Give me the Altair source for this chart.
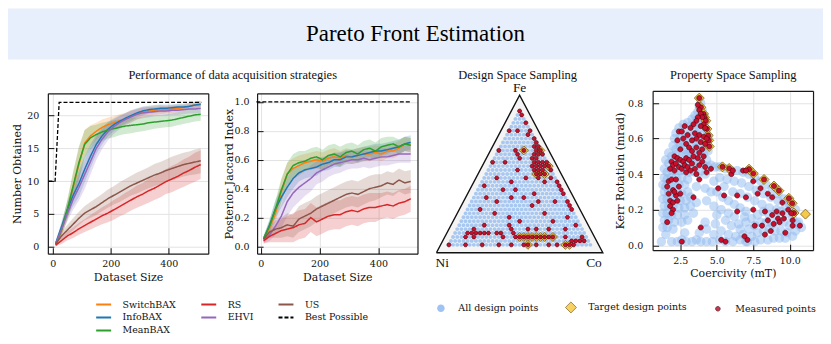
import altair as alt
import pandas as pd

# ------------------------------------------------------------------ data
TITLE = "Pareto Front Estimation"
PERF_TITLE = "Performance of data acquisition strategies"
DESIGN_TITLE = "Design Space Sampling"
PROP_TITLE = "Property Space Sampling"

methods = ["SwitchBAX", "RS", "US", "InfoBAX", "EHVI", "Best Possible", "MeanBAX"]
method_colors = ["#ff7f0e", "#d62728", "#8c564b", "#1f77b4", "#9467bd", "#000000", "#2ca02c"]
method_dash = [[1, 0], [1, 0], [1, 0], [1, 0], [1, 0], [4, 2], [1, 0]]

dataset_size = [10, 30, 50, 70, 90, 110, 130, 150, 170, 190, 210, 230, 250,
                270, 290, 310, 330, 350, 370, 390, 410, 430, 450, 470, 490, 510]

number_obtained = {
    "SwitchBAX": [0.3, 2.4, 5.5, 9.0, 12.5, 15.8, 16.9, 17.6, 18.2, 18.6, 18.9, 19.2, 19.5, 19.9, 20.2, 20.5, 20.7, 20.8, 20.9, 20.9, 21.0, 21.1, 21.2, 21.4, 21.6, 21.8],
    "InfoBAX":   [0.5, 3.0, 5.6, 7.8, 9.6, 11.8, 13.8, 15.6, 16.9, 17.9, 18.6, 19.1, 19.6, 20.0, 20.4, 20.7, 20.9, 21.0, 21.1, 21.1, 21.2, 21.3, 21.3, 21.4, 21.6, 21.7],
    "MeanBAX":   [0.3, 2.5, 5.6, 9.2, 12.8, 15.6, 16.6, 17.1, 17.5, 17.8, 18.0, 18.2, 18.4, 18.5, 18.6, 18.7, 18.9, 19.0, 19.1, 19.2, 19.3, 19.5, 19.7, 19.9, 20.1, 20.2],
    "EHVI":      [0.4, 2.6, 5.0, 7.2, 9.0, 11.0, 13.0, 15.0, 16.4, 17.5, 18.3, 18.9, 19.4, 19.8, 20.2, 20.4, 20.5, 20.6, 20.7, 20.7, 20.8, 20.8, 20.9, 21.0, 21.0, 21.1],
    "RS":        [0.2, 0.9, 1.6, 2.1, 2.7, 3.2, 3.7, 4.2, 4.7, 5.1, 5.6, 6.1, 6.6, 7.1, 7.6, 8.0, 8.5, 8.9, 9.4, 9.9, 10.3, 10.7, 11.2, 11.6, 12.1, 12.5],
    "US":        [0.4, 1.6, 2.5, 3.4, 4.3, 5.1, 5.6, 6.1, 6.7, 7.3, 7.8, 8.3, 8.8, 9.3, 9.7, 10.1, 10.5, 10.9, 11.2, 11.6, 11.9, 12.2, 12.5, 12.7, 12.9, 13.1],
}
number_halfwidth = {
    "SwitchBAX": [0.3, 0.8, 1.5, 2.2, 2.5, 2.0, 1.6, 1.3, 1.2, 1.1, 1.0, 1.0, 0.9, 0.9, 0.8, 0.8, 0.7, 0.7, 0.7, 0.6, 0.6, 0.6, 0.5, 0.5, 0.5, 0.5],
    "InfoBAX":   [0.3, 0.8, 1.2, 1.6, 2.0, 2.0, 1.8, 1.5, 1.3, 1.1, 1.0, 0.9, 0.8, 0.8, 0.7, 0.7, 0.6, 0.6, 0.6, 0.6, 0.5, 0.5, 0.5, 0.5, 0.5, 0.5],
    "MeanBAX":   [0.3, 0.8, 1.5, 2.2, 2.5, 2.2, 1.8, 1.5, 1.4, 1.3, 1.3, 1.2, 1.2, 1.2, 1.1, 1.1, 1.1, 1.0, 1.0, 1.0, 1.0, 1.0, 1.0, 1.0, 1.0, 1.0],
    "EHVI":      [0.3, 0.8, 1.2, 1.6, 2.0, 2.2, 2.0, 1.8, 1.5, 1.3, 1.1, 1.0, 0.9, 0.9, 0.8, 0.8, 0.8, 0.7, 0.7, 0.7, 0.7, 0.7, 0.7, 0.7, 0.7, 0.7],
    "RS":        [0.2, 0.5, 0.7, 0.8, 0.9, 1.0, 1.1, 1.2, 1.3, 1.4, 1.5, 1.5, 1.6, 1.6, 1.7, 1.7, 1.8, 1.8, 1.9, 1.9, 2.0, 2.0, 2.1, 2.1, 2.2, 2.2],
    "US":        [0.3, 0.6, 0.8, 0.9, 1.0, 1.1, 1.2, 1.3, 1.3, 1.4, 1.4, 1.5, 1.5, 1.5, 1.6, 1.6, 1.6, 1.7, 1.7, 1.7, 1.8, 1.8, 1.8, 1.8, 1.9, 1.9],
}
jaccard = {
    "SwitchBAX": [0.05, 0.13, 0.23, 0.38, 0.50, 0.54, 0.56, 0.58, 0.59, 0.60, 0.59, 0.61, 0.62, 0.61, 0.63, 0.62, 0.63, 0.64, 0.64, 0.65, 0.64, 0.66, 0.66, 0.68, 0.71, 0.70],
    "InfoBAX":   [0.05, 0.15, 0.26, 0.34, 0.41, 0.47, 0.51, 0.53, 0.54, 0.55, 0.57, 0.58, 0.60, 0.60, 0.62, 0.62, 0.63, 0.64, 0.65, 0.66, 0.66, 0.67, 0.68, 0.69, 0.71, 0.72],
    "MeanBAX":   [0.06, 0.14, 0.26, 0.39, 0.50, 0.56, 0.58, 0.59, 0.61, 0.62, 0.60, 0.63, 0.64, 0.62, 0.65, 0.66, 0.64, 0.67, 0.68, 0.66, 0.69, 0.70, 0.71, 0.69, 0.71, 0.70],
    "EHVI":      [0.04, 0.08, 0.14, 0.21, 0.31, 0.37, 0.41, 0.44, 0.47, 0.51, 0.53, 0.55, 0.57, 0.58, 0.59, 0.60, 0.60, 0.61, 0.60, 0.61, 0.62, 0.62, 0.63, 0.64, 0.64, 0.64],
    "RS":        [0.04, 0.07, 0.09, 0.11, 0.12, 0.13, 0.15, 0.16, 0.20, 0.17, 0.19, 0.21, 0.22, 0.22, 0.24, 0.25, 0.24, 0.26, 0.27, 0.27, 0.28, 0.29, 0.28, 0.30, 0.31, 0.33],
    "US":        [0.05, 0.10, 0.12, 0.13, 0.15, 0.14, 0.19, 0.21, 0.23, 0.26, 0.28, 0.30, 0.32, 0.34, 0.36, 0.37, 0.36, 0.38, 0.40, 0.41, 0.42, 0.44, 0.43, 0.46, 0.44, 0.45],
}
jaccard_halfwidth = {
    "SwitchBAX": [0.02, 0.04, 0.06, 0.08, 0.08, 0.07, 0.07, 0.06, 0.06, 0.06, 0.06, 0.06, 0.06, 0.05, 0.05, 0.05, 0.05, 0.05, 0.05, 0.05, 0.05, 0.05, 0.05, 0.05, 0.05, 0.05],
    "InfoBAX":   [0.02, 0.04, 0.06, 0.07, 0.07, 0.07, 0.06, 0.06, 0.06, 0.06, 0.05, 0.05, 0.05, 0.05, 0.05, 0.05, 0.05, 0.05, 0.05, 0.05, 0.05, 0.05, 0.05, 0.05, 0.05, 0.05],
    "MeanBAX":   [0.02, 0.04, 0.06, 0.08, 0.08, 0.08, 0.08, 0.07, 0.07, 0.07, 0.07, 0.07, 0.07, 0.07, 0.06, 0.06, 0.06, 0.06, 0.06, 0.06, 0.06, 0.06, 0.05, 0.05, 0.05, 0.05],
    "EHVI":      [0.02, 0.04, 0.06, 0.08, 0.10, 0.10, 0.10, 0.09, 0.09, 0.08, 0.08, 0.07, 0.07, 0.07, 0.06, 0.06, 0.06, 0.06, 0.06, 0.06, 0.06, 0.06, 0.06, 0.06, 0.06, 0.06],
    "RS":        [0.02, 0.04, 0.06, 0.08, 0.09, 0.10, 0.10, 0.10, 0.10, 0.10, 0.10, 0.10, 0.10, 0.10, 0.10, 0.10, 0.10, 0.10, 0.10, 0.10, 0.09, 0.09, 0.09, 0.09, 0.09, 0.09],
    "US":        [0.02, 0.04, 0.06, 0.07, 0.08, 0.08, 0.09, 0.09, 0.09, 0.09, 0.09, 0.09, 0.09, 0.09, 0.09, 0.09, 0.09, 0.09, 0.09, 0.09, 0.08, 0.08, 0.08, 0.08, 0.08, 0.08],
}
best_number_x = [-15, 8, 22, 512]
best_number_y = [10, 10, 22, 22]
best_jaccard_x = [-15, 512]
best_jaccard_y = [1.0, 1.0]

size_ticks = [0, 200, 400]
number_ticks = [0, 5, 10, 15, 20]
jaccard_ticks = [0.0, 0.2, 0.4, 0.6, 0.8, 1.0]
coercivity_ticks = [2.5, 5.0, 7.5, 10.0]
kerr_ticks = [0.0, 0.2, 0.4, 0.6, 0.8]

# ternary design space: composition levels (at.%) of the lattice
composition_levels = [5.0, 7.5, 10.0, 12.5, 15.0, 17.5, 20.0, 22.5, 25.0, 27.5, 30.0, 32.5,
                      35.0, 37.5, 40.0, 42.5, 45.0, 47.5, 50.0, 52.5, 55.0, 57.5, 60.0, 62.5,
                      65.0, 67.5, 70.0, 72.5, 75.0, 77.5, 80.0, 82.5, 85.0, 87.5, 90.0]
# measured compositions (Fe %, Co %)
measured_comp = [
    (90, 5), (87.5, 7.5), (77.5, 5), (77.5, 10), (77.5, 17.5), (75, 17.5), (82.5, 12.5),
    (72.5, 22.5), (70, 25), (65, 15), (65, 5), (67.5, 25), (67.5, 27.5), (65, 27.5), (65, 30),
    (62.5, 27.5), (62.5, 30), (62.5, 32.5), (65, 20), (60, 27.5), (60, 30), (60, 20), (62.5, 17.5),
    (57.5, 30), (57.5, 32.5), (57.5, 35), (57.5, 37.5), (55, 30), (55, 32.5), (55, 35), (55, 37.5),
    (52.5, 32.5), (52.5, 35), (52.5, 37.5), (55, 40), (50, 35), (50, 37.5), (50, 40), (47.5, 37.5),
    (45, 42.5), (52.5, 42.5), (47.5, 45), (45, 50), (42.5, 52.5), (40, 55), (37.5, 57.5),
    (32.5, 62.5), (30, 65), (27.5, 67.5), (57.5, 5), (57.5, 12.5), (52.5, 22.5), (47.5, 12.5),
    (45, 22.5), (47.5, 30), (42.5, 7.5), (40, 20), (40, 27.5), (37.5, 40), (35, 12.5), (35, 27.5),
    (35, 35), (32.5, 45), (32.5, 20), (32.5, 55), (30, 42.5), (27.5, 12.5), (25, 22.5), (25, 52.5),
    (22.5, 32.5), (20, 60), (22.5, 67.5), (20, 40), (17.5, 20), (17.5, 35), (15, 47.5), (15, 52.5),
    (15, 60), (15, 70), (17.5, 75), (12.5, 12.5), (12.5, 15), (12.5, 17.5), (12.5, 20), (12.5, 22.5),
    (15, 15), (10, 17.5), (10, 12.5), (12.5, 25), (12.5, 30), (12.5, 32.5), (10, 35), (12.5, 40),
    (15, 37.5), (10, 42.5), (10, 45), (10, 47.5), (10, 50), (10, 52.5), (10, 55), (10, 57.5),
    (10, 60), (10, 62.5), (10, 65), (10, 72.5), (7.5, 80), (10, 82.5), (5, 5), (5, 15), (5, 25),
    (5, 35), (5, 42.5), (5, 50), (5, 57.5), (5, 65), (5, 70), (5, 75), (7.5, 77.5), (5, 80),
    (7.5, 82.5), (7.5, 85), (5, 52.5), (5, 77.5),
]
target_comp = [(65, 20), (65, 30), (55, 40), (50, 35), (50, 40), (10, 45), (10, 47.5), (10, 50),
               (10, 52.5), (10, 55), (10, 57.5), (10, 60), (10, 65), (5, 52.5), (5, 75), (5, 77.5)]
vertex_names = ["Fe", "Ni", "Co"]
vertex_fe = [100, 0, 0]
vertex_co = [0, 0, 100]

# property space (coercivity mT, Kerr rotation mrad)
prop_all = [
    (3.9, 0.80), (3.8, 0.78), (4.0, 0.76), (3.7, 0.75), (3.5, 0.73), (4.1, 0.73), (3.3, 0.71), (3.6, 0.70),
    (3.9, 0.70), (4.2, 0.69), (3.0, 0.69), (2.7, 0.68), (3.2, 0.67), (3.5, 0.66), (3.8, 0.66), (4.3, 0.65),
    (2.4, 0.66), (2.2, 0.63), (2.5, 0.62), (2.8, 0.63), (3.1, 0.62), (3.4, 0.62), (3.7, 0.62), (4.0, 0.62),
    (4.4, 0.61), (2.1, 0.60), (2.4, 0.58), (2.7, 0.58), (3.0, 0.59), (3.3, 0.57), (3.6, 0.58), (3.9, 0.57),
    (4.3, 0.57), (2.0, 0.56), (2.2, 0.54), (2.5, 0.55), (2.8, 0.54), (3.1, 0.53), (3.5, 0.54), (3.8, 0.53),
    (4.1, 0.52), (4.4, 0.53), (1.7, 0.52), (1.9, 0.50), (2.2, 0.51), (2.6, 0.50), (2.9, 0.51), (3.2, 0.50),
    (3.5, 0.50), (3.9, 0.49), (4.3, 0.48), (1.5, 0.48), (1.7, 0.46), (2.0, 0.47), (2.4, 0.46), (2.7, 0.46),
    (3.0, 0.46), (3.4, 0.46), (3.7, 0.46), (4.1, 0.45), (4.4, 0.44), (1.4, 0.43), (1.6, 0.41), (1.9, 0.42),
    (2.2, 0.42), (2.5, 0.42), (2.8, 0.42), (3.1, 0.41), (3.5, 0.41), (3.8, 0.41), (4.2, 0.40),
    (1.4, 0.38), (1.6, 0.37), (1.9, 0.38), (2.2, 0.38), (2.6, 0.38), (3.0, 0.37), (1.3, 0.34), (1.5, 0.33),
    (1.8, 0.34), (2.1, 0.34), (2.4, 0.34), (2.8, 0.34), (1.4, 0.30), (1.7, 0.30), (2.0, 0.30), (2.3, 0.30),
    (2.6, 0.29), (1.3, 0.26), (1.6, 0.26), (1.9, 0.26), (2.2, 0.26), (2.5, 0.25), (2.9, 0.25), (1.4, 0.22),
    (1.7, 0.22), (2.0, 0.22), (2.4, 0.21), (2.8, 0.21), (3.2, 0.22), (1.3, 0.18), (1.6, 0.18), (1.9, 0.17),
    (2.3, 0.17), (2.8, 0.17), (3.4, 0.18), (1.4, 0.14), (1.7, 0.14), (2.1, 0.13), (2.6, 0.13), (3.0, 0.14),
    (1.3, 0.10), (1.6, 0.10), (2.0, 0.09), (1.5, 0.06), (3.2, 0.27), (3.6, 0.24), (3.0, 0.30),
    (1.2, 0.02), (1.9, 0.02), (2.3, 0.02), (2.6, 0.03), (2.9, 0.02), (3.3, 0.02), (3.6, 0.03), (3.9, 0.02),
    (4.3, 0.02), (4.7, 0.02), (5.2, 0.03), (5.6, 0.02), (6.1, 0.02), (6.6, 0.03), (7.0, 0.02), (2.8, 0.07),
    (3.8, 0.07), (4.3, 0.09), (4.8, 0.06), (4.2, 0.13), (4.9, 0.12), (5.3, 0.08), (5.8, 0.06), (6.3, 0.05),
    (3.6, 0.33), (4.2, 0.32), (4.6, 0.30), (5.0, 0.30), (5.4, 0.27), (5.8, 0.25), (6.2, 0.23), (6.6, 0.21),
    (7.0, 0.19), (4.3, 0.25), (4.8, 0.22), (5.3, 0.20), (5.8, 0.18), (6.2, 0.16), (5.6, 0.14), (6.0, 0.11),
    (6.5, 0.12), (5.0, 0.17),
    (4.6, 0.45), (4.9, 0.44), (5.2, 0.44), (5.6, 0.43), (6.0, 0.42), (6.4, 0.42), (6.8, 0.41), (7.2, 0.40),
    (7.6, 0.38), (8.0, 0.36), (8.4, 0.34), (8.8, 0.32), (9.2, 0.29), (9.6, 0.26), (10.0, 0.23), (10.4, 0.20),
    (5.2, 0.38), (5.7, 0.37), (6.2, 0.36), (6.7, 0.35), (7.2, 0.33), (7.7, 0.31), (8.2, 0.29), (8.7, 0.27),
    (9.2, 0.25), (9.7, 0.22), (4.8, 0.36), (5.5, 0.33), (6.1, 0.30), (6.6, 0.29), (7.1, 0.27), (7.6, 0.25),
    (8.1, 0.23), (8.6, 0.21), (9.1, 0.20),
    (7.0, 0.13), (7.4, 0.15), (7.8, 0.17), (8.2, 0.19), (8.6, 0.17), (9.0, 0.17), (9.4, 0.19), (9.8, 0.18),
    (10.2, 0.15), (10.5, 0.12), (7.2, 0.09), (7.6, 0.11), (8.0, 0.13), (8.4, 0.13), (8.8, 0.12), (9.2, 0.13),
    (9.6, 0.13), (10.0, 0.11), (10.4, 0.08), (6.8, 0.06), (7.4, 0.05), (7.8, 0.07), (8.2, 0.08), (8.6, 0.09),
    (9.0, 0.08), (9.4, 0.08), (9.8, 0.07), (10.2, 0.05), (7.1, 0.02), (7.6, 0.02), (8.0, 0.03), (8.5, 0.03),
    (8.9, 0.04), (9.3, 0.04), (9.7, 0.04), (10.6, 0.13), (10.8, 0.10), (6.6, 0.09), (6.9, 0.16),
]
prop_targets = [
    (3.80, 0.828), (3.91, 0.776), (4.09, 0.739), (4.16, 0.72), (4.25, 0.701), (4.32, 0.655), (4.41, 0.618),
    (4.45, 0.59), (4.48, 0.556), (5.39, 0.441), (5.85, 0.432), (7.21, 0.428), (7.5, 0.404), (8.24, 0.37),
    (8.92, 0.333), (9.26, 0.307), (9.94, 0.264), (10.17, 0.236), (10.29, 0.181), (11.08, 0.175),
]
prop_measured = [
    (3.80, 0.828), (3.91, 0.776), (4.09, 0.739), (4.16, 0.72), (4.25, 0.701), (4.32, 0.655), (4.41, 0.618),
    (4.45, 0.59), (4.48, 0.556),
    (3.7, 0.79), (3.8, 0.76), (3.9, 0.74), (4.0, 0.72), (3.7, 0.72), (3.6, 0.70), (4.1, 0.68), (3.9, 0.67),
    (4.2, 0.66), (3.4, 0.68), (3.2, 0.66), (2.8, 0.67), (2.4, 0.64), (2.6, 0.64), (2.3, 0.59), (2.7, 0.60),
    (3.0, 0.62), (3.5, 0.63), (3.8, 0.62), (4.1, 0.61), (4.3, 0.60), (3.6, 0.60), (3.3, 0.59), (3.9, 0.58),
    (4.2, 0.57), (2.9, 0.57), (3.1, 0.55), (3.6, 0.55), (4.0, 0.54), (2.5, 0.54), (3.3, 0.53), (3.8, 0.52),
    (2.1, 0.50), (2.3, 0.49), (2.5, 0.48), (2.7, 0.47), (2.9, 0.49), (3.1, 0.48), (3.4, 0.50), (3.7, 0.49),
    (4.1, 0.50), (1.9, 0.47), (2.0, 0.45), (2.2, 0.46), (2.4, 0.44), (2.6, 0.43), (2.8, 0.45), (3.0, 0.44),
    (3.3, 0.46), (3.5, 0.43), (3.8, 0.45), (4.0, 0.47), (4.2, 0.44), (4.3, 0.41), (1.8, 0.43), (2.1, 0.42),
    (2.9, 0.41), (3.2, 0.42), (3.6, 0.40), (3.8, 0.37),
    (1.7, 0.36), (1.6, 0.33), (1.7, 0.29), (1.9, 0.37), (2.2, 0.37), (2.4, 0.33), (2.0, 0.31), (2.2, 0.28),
    (1.8, 0.25), (2.0, 0.24), (1.8, 0.22), (2.0, 0.20), (1.9, 0.18), (1.6, 0.13), (2.5, 0.29), (2.3, 0.25),
    (2.1, 0.30), (3.4, 0.27), (2.6, 0.02), (3.9, 0.10),
    (5.39, 0.441), (5.85, 0.432), (7.21, 0.428), (7.5, 0.404), (8.24, 0.37), (8.92, 0.333), (9.26, 0.307),
    (9.94, 0.264), (10.17, 0.236), (10.29, 0.181),
    (4.6, 0.43), (5.1, 0.32), (5.5, 0.28), (6.0, 0.40), (6.1, 0.42), (6.8, 0.42), (7.0, 0.42), (7.5, 0.36),
    (8.0, 0.32), (8.5, 0.29), (6.4, 0.28), (7.0, 0.27), (7.8, 0.29), (8.8, 0.27), (9.5, 0.24), (6.4, 0.19),
    (7.5, 0.20), (8.3, 0.19), (8.8, 0.17), (9.1, 0.19), (9.5, 0.18), (8.5, 0.14), (9.2, 0.15), (9.6, 0.15),
    (10.2, 0.14), (8.1, 0.11), (7.6, 0.11), (8.9, 0.12), (9.3, 0.13), (10.2, 0.11), (10.7, 0.11), (9.7, 0.07),
    (8.3, 0.06), (7.1, 0.03), (5.6, 0.02), (5.3, 0.03), (6.9, 0.05), (8.7, 0.08), (9.9, 0.20), (10.1, 0.18),
]

kinds = ["All design points", "Target design points", "Measured points"]
kind_fill = ["#8fb9f0", "#f7c948", "#c8102e"]
kind_stroke = ["#ffffff00", "#7a5a0c", "#3d0812"]
# symbol outlines in the unit square [-1, 1]: medium disc, full diamond, small dot
kind_shape = [
    "M-0.68,0A0.68,0.68,0,1,1,0.68,0A0.68,0.68,0,1,1,-0.68,0Z",
    "M0,-1L1,0L0,1L-1,0Z",
    "M-0.42,0A0.42,0.42,0,1,1,0.42,0A0.42,0.42,0,1,1,-0.42,0Z",
]

# ------------------------------------------------------------------ layout (pixels inside main view)
W, H = 818, 276
BANNER_H = 51
GAP = 1
P1 = dict(x0=40, x1=201, y0=194, y1=33)
P2 = dict(x0=250, x1=411, y0=194, y1=33)
P3 = dict(x0=430, x1=597, y0=193, y1=35)
P4 = dict(x0=647, x1=808, y0=190.5, y1=30.5)
TITLE_Y = 14
XTITLE_Y = 218

SERIF = "DejaVu Serif"
TIMES = "Liberation Serif"
INK = "#111111"


def frame_axis(orient, pos, values=None, grid=False, title=None, tx=None, ty=None, domain=True):
    off = {"bottom": pos - H, "left": -pos, "top": -pos, "right": pos - W}[orient]
    kw = dict(orient=orient, offset=off, domain=domain, domainColor="#1a1a1a", domainWidth=1.2,
              ticks=False, labels=False, grid=grid, gridColor="#e3e3e3", gridWidth=1)
    if values is not None:
        kw["values"] = values
    if title:
        kw.update(title=title, titleX=tx, titleY=ty, titleFont=TIMES, titleFontSize=12.5,
                  titleFontWeight="normal", titleAlign="center", titleBaseline="middle",
                  titleColor=INK, titleAngle=0)
    else:
        kw["title"] = None
    return alt.Axis(**kw)


def tick_axis(orient, pos, values, fmt, title, tcenter, tpos, pad):
    if orient == "bottom":
        g = pos - 6
        off = g - H
        tx, ty, ang = tcenter, tpos - g, 0
    else:
        g = pos + 6
        off = -g
        tx, ty, ang = tpos - g, tcenter, 270
    return alt.Axis(orient=orient, offset=off, values=values, format=fmt, domain=False, grid=False,
                    ticks=True, tickSize=6, tickColor=INK, tickWidth=1, labelPadding=pad,
                    labelFont=SERIF, labelFontSize=9.5, labelColor=INK, labelFlush=False,
                    labelOverlap=False, title=title, titleX=tx, titleY=ty, titleAngle=ang,
                    titleAlign="center", titleBaseline="middle", titleFont=SERIF,
                    titleFontSize=11, titleFontWeight="normal", titleColor=INK)


def lin(domain, rng):
    return alt.Scale(domain=domain, range=rng, nice=False, zero=False)


color_scale = alt.Scale(domain=methods, range=method_colors)
dash_scale = alt.Scale(domain=methods, range=method_dash)
fill_scale = alt.Scale(domain=kinds, range=kind_fill)
stroke_scale = alt.Scale(domain=kinds, range=kind_stroke)
shape_scale = alt.Scale(domain=kinds, range=kind_shape)

# shared legends are placed in the top-level frame (below the banner)
method_legend = alt.Legend(orient="none", legendX=87.5, legendY=BANNER_H + GAP + 236.5, columns=3,
                           direction="horizontal", title=None,
                           symbolType="stroke", symbolSize=225, symbolStrokeWidth=2,
                           symbolOpacity=1, labelFont=SERIF, labelFontSize=9.5, labelColor=INK,
                           labelOffset=10.5, columnPadding=20.5, rowPadding=0, padding=0)
kind_legend = alt.Legend(orient="none", legendX=428.5, legendY=BANNER_H + GAP + 241.5, columns=3,
                         direction="horizontal", title=None, symbolStrokeWidth=0.8,
                         symbolSize=121, symbolOpacity=0.85, labelFont=SERIF, labelFontSize=9.5,
                         labelColor=INK, labelOffset=11.5, columnPadding=24.5, padding=0)


def perf_layers(means, halves, best_x, best_y, P, xdom, ydom, yvals, yfmt, ytitle, ytitle_x,
                ypad, title=None, title_x=None):
    rows = []
    for m in means:
        for x, v, h in zip(dataset_size, means[m], halves[m]):
            rows.append({"x": x, "method": m, "mean": v, "lo": v - h, "hi": v + h})
    df = pd.DataFrame(rows)
    best = pd.DataFrame({"x": best_x, "mean": best_y, "method": "Best Possible"})
    xs = lin(xdom, [P["x0"], P["x1"]])
    ys = lin(ydom, [P["y0"], P["y1"]])
    bands = alt.Chart(df).mark_area(fillOpacity=0.22).encode(
        x=alt.X("x:Q", scale=xs, axis=frame_axis("bottom", P["y0"])),
        y=alt.Y("lo:Q", scale=ys, stack=None,
                axis=frame_axis("left", P["x0"], values=yvals, grid=True)),
        y2="hi:Q",
        color=alt.Color("method:N", scale=color_scale, legend=method_legend),
    )
    lines = alt.Chart(df).mark_line(strokeWidth=1.5).encode(
        x=alt.X("x:Q", scale=xs,
                axis=tick_axis("bottom", P["y0"], size_ticks, "d", "Dataset Size",
                               (P["x0"] + P["x1"]) / 2, XTITLE_Y, 5)),
        y=alt.Y("mean:Q", scale=ys,
                axis=tick_axis("left", P["x0"], yvals, yfmt, ytitle,
                               (P["y0"] + P["y1"]) / 2, ytitle_x, ypad)),
        color=alt.Color("method:N", scale=color_scale, legend=method_legend),
        strokeDash=alt.StrokeDash("method:N", scale=dash_scale, legend=method_legend),
    )
    best_line = alt.Chart(best).mark_line(strokeWidth=1.3).encode(
        x=alt.X("x:Q", scale=xs,
                axis=frame_axis("top", P["y1"], values=size_ticks, grid=True, title=title,
                                tx=title_x, ty=TITLE_Y - P["y1"])),
        y=alt.Y("mean:Q", scale=ys, axis=frame_axis("right", P["x1"])),
        color=alt.Color("method:N", scale=color_scale, legend=method_legend),
        strokeDash=alt.StrokeDash("method:N", scale=dash_scale, legend=method_legend),
    )
    return [bands, lines, best_line]


layers = []
layers += perf_layers(number_obtained, number_halfwidth, best_number_x, best_number_y, P1,
                      [-17, 536], [-1.1, 23.4], number_ticks, "d", "Number Obtained", 10, 9,
                      title=PERF_TITLE, title_x=225)
layers += perf_layers(jaccard, jaccard_halfwidth, best_jaccard_x, best_jaccard_y, P2,
                      [-12.5, 533], [-0.05, 1.06], jaccard_ticks, ".1f",
                      "Posterior Jaccard Index", 222, 8)

# ---------------- ternary panel
TX = "datum.Co / 100 + datum.Fe / 200"
TY = "datum.Fe / 100"
txs = lin([0, 1], [P3["x0"], P3["x1"]])
tys = lin([0, 1], [P3["y0"], P3["y1"]])

tri_area = pd.DataFrame({"Fe": vertex_fe, "Co": vertex_co})
tri_line = pd.DataFrame({"Fe": [0, 0, 100, 0], "Co": [0, 100, 0, 0], "o": [0, 1, 2, 3]})
design_rows = [{"Fe": fe, "Co": co, "kind": kinds[0]}
               for fe in composition_levels for co in composition_levels
               if 100 - fe - co >= 5 - 1e-9]
tern_design = pd.DataFrame(design_rows)
tern_target = pd.DataFrame({"Fe": [c[0] for c in target_comp], "Co": [c[1] for c in target_comp],
                            "kind": kinds[1]})
tern_meas = pd.DataFrame({"Fe": [c[0] for c in measured_comp], "Co": [c[1] for c in measured_comp],
                          "kind": kinds[2]})
tern_vert = pd.DataFrame({"el": vertex_names, "Fe": vertex_fe, "Co": vertex_co})


def tern(df):
    return alt.Chart(df).transform_calculate(tx=TX, ty=TY)


def kind_enc():
    return dict(
        fill=alt.Fill("kind:N", scale=fill_scale, legend=kind_legend),
        shape=alt.Shape("kind:N", scale=shape_scale, legend=kind_legend),
        stroke=alt.Stroke("kind:N", scale=stroke_scale, legend=kind_legend),
    )


TXE = alt.X("tx:Q", scale=txs, axis=None)
TYE = alt.Y("ty:Q", scale=tys, axis=None)

layers.append(tern(tri_area).mark_area(color="#f4f4f4").encode(
    x=alt.X("tx:Q", scale=txs,
            axis=frame_axis("top", 0, domain=False, title=DESIGN_TITLE, tx=511, ty=TITLE_Y)),
    y=TYE))
layers.append(tern(tri_line).mark_line(color=INK, strokeWidth=1.4).encode(
    x=TXE, y=TYE, order="o:Q"))
layers.append(tern(tern_design).mark_point(filled=True, size=33, opacity=0.75, strokeWidth=0).encode(
    x=TXE, y=TYE, **kind_enc()))
layers.append(tern(tern_target).mark_point(filled=True, size=80, opacity=1, strokeWidth=0.8).encode(
    x=TXE, y=TYE, **kind_enc()))
layers.append(tern(tern_meas).mark_point(filled=True, size=95, opacity=1, strokeWidth=0.6).encode(
    x=TXE, y=TYE, **kind_enc()))
for name, align, baseline, dx, dy in [("Fe", "center", "bottom", 0, 0),
                                      ("Ni", "left", "top", -1, 3),
                                      ("Co", "right", "top", -1, 3)]:
    layers.append(tern(tern_vert).transform_filter(alt.datum.el == name).mark_text(
        font=TIMES, fontSize=13.5, color=INK, align=align, baseline=baseline, dx=dx, dy=dy
    ).encode(x=TXE, y=TYE, text="el:N"))

# ---------------- property space panel
pxs = lin([0.6, 11.6], [P4["x0"], P4["x1"]])
pys = lin([-0.028, 0.869], [P4["y0"], P4["y1"]])
prop_all_df = pd.DataFrame({"c": [p[0] for p in prop_all], "k": [p[1] for p in prop_all],
                            "kind": kinds[0]})
prop_tgt_df = pd.DataFrame({"c": [p[0] for p in prop_targets], "k": [p[1] for p in prop_targets],
                            "kind": kinds[1]})
prop_meas_df = pd.DataFrame({"c": [p[0] for p in prop_measured], "k": [p[1] for p in prop_measured],
                             "kind": kinds[2]})

layers.append(alt.Chart(prop_all_df).mark_point(filled=True, size=190, opacity=0.5, strokeWidth=0).encode(
    x=alt.X("c:Q", scale=pxs, axis=frame_axis("bottom", P4["y0"])),
    y=alt.Y("k:Q", scale=pys, axis=frame_axis("left", P4["x0"], values=kerr_ticks, grid=True)),
    **kind_enc()))
layers.append(alt.Chart(prop_tgt_df).mark_point(filled=True, size=100, opacity=1, strokeWidth=0.8).encode(
    x=alt.X("c:Q", scale=pxs,
            axis=tick_axis("bottom", P4["y0"], coercivity_ticks, ".1f", "Coercivity (mT)",
                           (P4["x0"] + P4["x1"]) / 2, 214, 5)),
    y=alt.Y("k:Q", scale=pys,
            axis=tick_axis("left", P4["x0"], kerr_ticks, ".1f", "Kerr Rotation (mrad)",
                           (P4["y0"] + P4["y1"]) / 2, 615, 10)),
    **kind_enc()))
layers.append(alt.Chart(prop_meas_df).mark_point(filled=True, size=150, opacity=1, strokeWidth=0.6).encode(
    x=alt.X("c:Q", scale=pxs,
            axis=frame_axis("top", P4["y1"], values=coercivity_ticks, grid=True, title=PROP_TITLE,
                            tx=727.5, ty=TITLE_Y - P4["y1"])),
    y=alt.Y("k:Q", scale=pys, axis=frame_axis("right", P4["x1"])),
    **kind_enc()))

main = alt.layer(*layers).resolve_scale(x="independent", y="independent").properties(
    width=W, height=H)

banner = alt.Chart(pd.DataFrame({"t": [TITLE]})).mark_text(
    font=TIMES, fontSize=23, color="#000000", baseline="middle", align="center"
).encode(text="t:N").properties(width=W, height=BANNER_H, view=alt.ViewBackground(fill="#e8effc"))

chart = alt.vconcat(banner, main, spacing=GAP).properties(padding=0).configure_view(strokeWidth=0)

chart.save("out.html", embed_options={"renderer": "svg", "actions": False})
